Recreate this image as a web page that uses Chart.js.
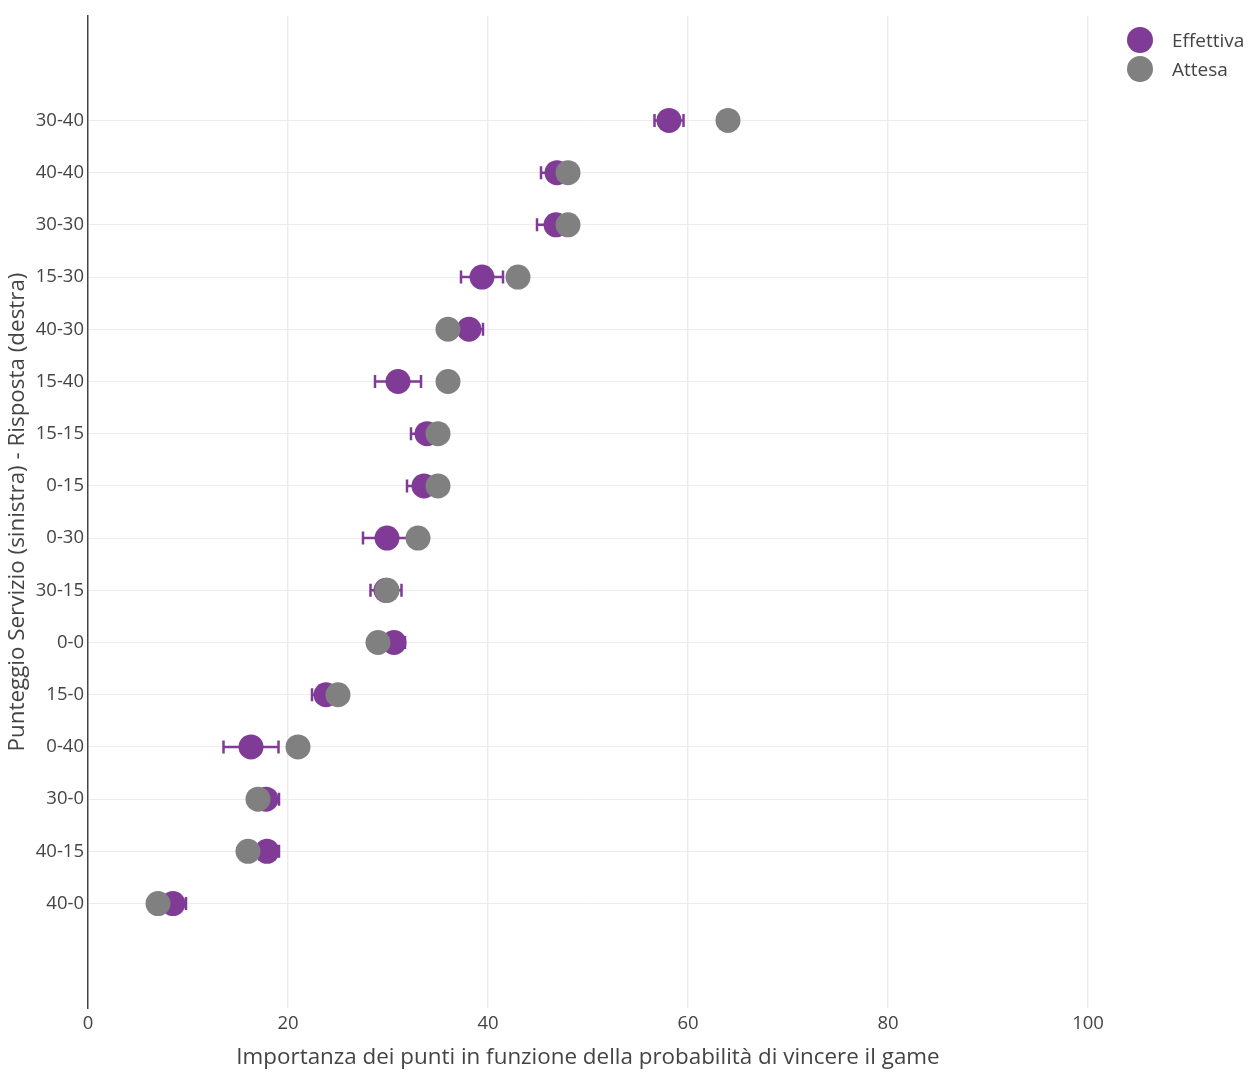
<!DOCTYPE html>
<html>
<head>
<meta charset="utf-8">
<script src="https://cdn.jsdelivr.net/npm/chart.js@4"></script>
<style>
  html, body { margin: 0; padding: 0; background: #fff; }
  #wrap { position: relative; width: 1252px; height: 1078px; }
  #legend { position: absolute; left: 1127px; top: 25px; font-family: "Open Sans", sans-serif; font-size: 19px; color: #444; }
  .item { display: flex; align-items: center; height: 29px; }
  .dot { width: 26px; height: 26px; border-radius: 50%; margin-right: 19px; }
</style>
</head>
<body>
<div id="wrap">
  <canvas id="chart" width="1252" height="1078"></canvas>
  <div id="legend"></div>
</div>
<script>
// top to bottom
const punteggi  = ["30-40","40-40","30-30","15-30","40-30","15-40","15-15","0-15","0-30","30-15","0-0","15-0","0-40","30-0","40-15","40-0"];
const effettiva = [58.1, 46.9, 46.8, 39.4, 38.1, 31.0, 33.9, 33.6, 29.9, 29.8, 30.6, 23.8, 16.3, 17.8, 17.9, 8.5];
const errore    = [1.45, 1.6, 1.9, 2.1, 1.4, 2.3, 1.6, 1.7, 2.4, 1.55, 1.1, 1.4, 2.75, 1.3, 1.2, 1.3];
const attesa    = [64.0, 48.0, 48.0, 43.0, 36.0, 36.0, 35.0, 35.0, 33.0, 29.9, 29.0, 25.0, 21.0, 17.0, 16.0, 7.0];
const xTicks    = [0, 20, 40, 60, 80, 100];

const PURPLE = "#7f3b95";
const GREY = "#808080";
const FONT = "'Open Sans', sans-serif";

const errorBars = {
  id: "errorBars",
  beforeDatasetsDraw(chart) {
    const { ctx, scales: { x, y } } = chart;
    ctx.save();
    ctx.strokeStyle = PURPLE;
    ctx.lineWidth = 2.5;
    effettiva.forEach((v, i) => {
      const yp = y.getPixelForValue(i);
      const x0 = x.getPixelForValue(v - errore[i]);
      const x1 = x.getPixelForValue(v + errore[i]);
      ctx.beginPath();
      ctx.moveTo(x0, yp); ctx.lineTo(x1, yp);
      ctx.moveTo(x0, yp - 6.5); ctx.lineTo(x0, yp + 6.5);
      ctx.moveTo(x1, yp - 6.5); ctx.lineTo(x1, yp + 6.5);
      ctx.stroke();
    });
    ctx.restore();
  }
};

const ctx = document.getElementById("chart").getContext("2d");
new Chart(ctx, {
  type: "scatter",
  data: {
    datasets: [
      {
        label: "Effettiva",
        data: effettiva.map((v, i) => ({ x: v, y: i })),
        backgroundColor: PURPLE,
        borderWidth: 0,
        pointRadius: 12.5,
        pointHoverRadius: 12.5,
        order: 1,
      },
      {
        label: "Attesa",
        data: attesa.map((v, i) => ({ x: v, y: i })),
        backgroundColor: GREY,
        borderWidth: 0,
        pointRadius: 12.5,
        pointHoverRadius: 12.5,
        order: 0,
      },
    ],
  },
  options: {
    responsive: false,
    animation: false,
    layout: { padding: { top: 16, right: 164, left: 4, bottom: 0 } },
    plugins: {
      legend: { display: false },
      tooltip: { enabled: false },
    },
    scales: {
      x: {
        type: "linear",
        min: 0,
        max: 100,
        afterBuildTicks: s => { s.ticks = xTicks.map(v => ({ value: v })); },
        afterFit: s => { s.height = 70; },
        border: { display: false },
        grid: { color: v => v.tick.value === 0 ? "rgba(0,0,0,0)" : "#ebebeb", lineWidth: 1.5, drawTicks: false },
        ticks: { color: "#444", font: { family: FONT, size: 18.5 }, padding: 5, maxRotation: 0 },
        title: {
          display: true,
          text: "Importanza dei punti in funzione della probabilità di vincere il game",
          color: "#444",
          font: { family: FONT, size: 22.4 },
          padding: { top: 2, bottom: 7 },
        },
      },
      y: {
        type: "linear",
        reverse: true,
        min: -2,
        max: 17,
        afterBuildTicks: s => { s.ticks = punteggi.map((_, i) => ({ value: i })); },
        afterFit: s => { s.width = 84; },
        border: { display: true, color: "#444", width: 1.5 },
        grid: { color: "#ececec", lineWidth: 1, drawTicks: false },
        ticks: {
          color: "#444",
          font: { family: FONT, size: 18.5 },
          padding: 4,
          callback: v => punteggi[v] ?? "",
        },
        title: {
          display: true,
          text: "Punteggio Servizio (sinistra) - Risposta (destra)",
          color: "#444",
          font: { family: FONT, size: 22.4 },
          padding: { top: 0, bottom: 0 },
        },
      },
    },
  },
  plugins: [errorBars],
});

const legend = document.getElementById("legend");
[["Effettiva", PURPLE], ["Attesa", GREY]].forEach(([name, col]) => {
  const it = document.createElement("div");
  it.className = "item";
  it.innerHTML = `<span class="dot" style="background:${col}"></span><span>${name}</span>`;
  legend.appendChild(it);
});
</script>
</body>
</html>
